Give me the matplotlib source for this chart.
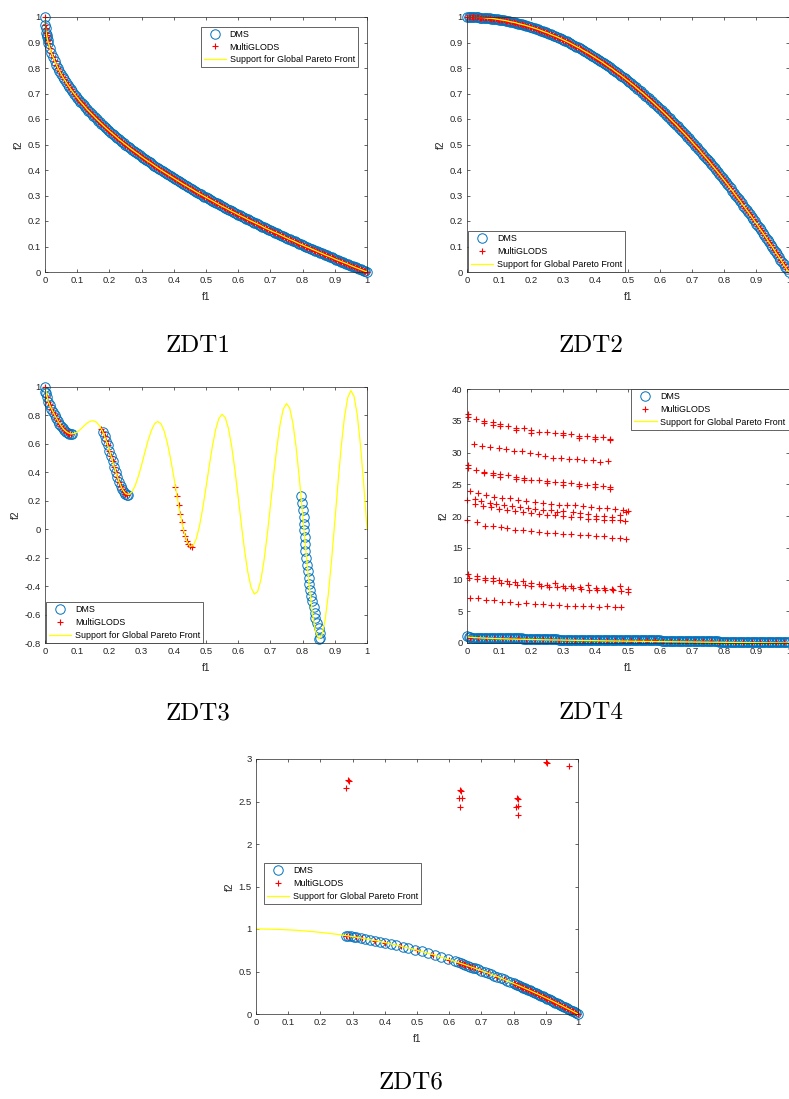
"""ZDT1-ZDT6 benchmark fronts: DMS vs MultiGLODS against the global Pareto front."""

# %%
import matplotlib

matplotlib.use("Agg")
import matplotlib.pyplot as plt
from matplotlib.lines import Line2D
from matplotlib.ticker import FuncFormatter

plt.rcParams["font.family"] = ["Liberation Sans", "DejaVu Sans"]

DMS_BLUE = "#0072BD"
MG_RED = "#FF0000"
FRONT_YELLOW = "#FFFF00"
AX_GRAY = "#262626"

# %% data
f1_grid = [
    0.00, 0.01, 0.02, 0.03, 0.04, 0.05, 0.06, 0.07, 0.08, 0.09,
    0.10, 0.11, 0.12, 0.13, 0.14, 0.15, 0.16, 0.17, 0.18, 0.19,
    0.20, 0.21, 0.22, 0.23, 0.24, 0.25, 0.26, 0.27, 0.28, 0.29,
    0.30, 0.31, 0.32, 0.33, 0.34, 0.35, 0.36, 0.37, 0.38, 0.39,
    0.40, 0.41, 0.42, 0.43, 0.44, 0.45, 0.46, 0.47, 0.48, 0.49,
    0.50, 0.51, 0.52, 0.53, 0.54, 0.55, 0.56, 0.57, 0.58, 0.59,
    0.60, 0.61, 0.62, 0.63, 0.64, 0.65, 0.66, 0.67, 0.68, 0.69,
    0.70, 0.71, 0.72, 0.73, 0.74, 0.75, 0.76, 0.77, 0.78, 0.79,
    0.80, 0.81, 0.82, 0.83, 0.84, 0.85, 0.86, 0.87, 0.88, 0.89,
    0.90, 0.91, 0.92, 0.93, 0.94, 0.95, 0.96, 0.97, 0.98, 0.99,
    1.00,
]
# points found between the grid points (dense runs)
f1_half = [
    0.005, 0.015, 0.025, 0.035, 0.045, 0.055, 0.065, 0.075, 0.085, 0.095,
    0.105, 0.115, 0.125, 0.135, 0.145, 0.155, 0.165, 0.175, 0.185, 0.195,
    0.205, 0.215, 0.225, 0.235, 0.245, 0.255, 0.265, 0.275, 0.285, 0.295,
    0.305, 0.315, 0.325, 0.335, 0.345, 0.355, 0.365, 0.375, 0.385, 0.395,
    0.405, 0.415, 0.425, 0.435, 0.445, 0.455, 0.465, 0.475, 0.485, 0.495,
    0.505, 0.515, 0.525, 0.535, 0.545, 0.555, 0.565, 0.575, 0.585, 0.595,
    0.605, 0.615, 0.625, 0.635, 0.645, 0.655, 0.665, 0.675, 0.685, 0.695,
    0.705, 0.715, 0.725, 0.735, 0.745, 0.755, 0.765, 0.775, 0.785, 0.795,
    0.805, 0.815, 0.825, 0.835, 0.845, 0.855, 0.865, 0.875, 0.885, 0.895,
    0.905, 0.915, 0.925, 0.935, 0.945, 0.955, 0.965, 0.975, 0.985, 0.995,
]

# convex front (ZDT1, ZDT4)
convex_f2 = [
    1.000, 0.900, 0.859, 0.827, 0.800, 0.776, 0.755, 0.735, 0.717, 0.700,
    0.684, 0.668, 0.654, 0.639, 0.626, 0.613, 0.600, 0.588, 0.576, 0.564,
    0.553, 0.542, 0.531, 0.520, 0.510, 0.500, 0.490, 0.480, 0.471, 0.462,
    0.452, 0.443, 0.434, 0.426, 0.417, 0.408, 0.400, 0.392, 0.384, 0.376,
    0.368, 0.360, 0.352, 0.344, 0.337, 0.329, 0.322, 0.314, 0.307, 0.300,
    0.293, 0.286, 0.279, 0.272, 0.265, 0.258, 0.252, 0.245, 0.238, 0.232,
    0.225, 0.219, 0.213, 0.206, 0.200, 0.194, 0.188, 0.182, 0.175, 0.169,
    0.163, 0.157, 0.152, 0.146, 0.140, 0.134, 0.128, 0.123, 0.117, 0.111,
    0.106, 0.100, 0.095, 0.089, 0.084, 0.078, 0.073, 0.067, 0.062, 0.057,
    0.051, 0.046, 0.041, 0.036, 0.031, 0.025, 0.020, 0.015, 0.010, 0.005,
    0.000,
]
convex_half_f2 = [
    0.929, 0.878, 0.842, 0.813, 0.788, 0.766, 0.745, 0.726, 0.709, 0.692,
    0.676, 0.661, 0.646, 0.633, 0.619, 0.606, 0.594, 0.582, 0.570, 0.558,
    0.547, 0.536, 0.526, 0.515, 0.505, 0.495, 0.485, 0.476, 0.466, 0.457,
    0.448, 0.439, 0.430, 0.421, 0.413, 0.404, 0.396, 0.388, 0.380, 0.372,
    0.364, 0.356, 0.348, 0.341, 0.333, 0.326, 0.318, 0.311, 0.304, 0.296,
    0.289, 0.282, 0.275, 0.269, 0.262, 0.255, 0.248, 0.242, 0.235, 0.229,
    0.222, 0.216, 0.209, 0.203, 0.197, 0.191, 0.185, 0.178, 0.172, 0.166,
    0.160, 0.154, 0.149, 0.143, 0.137, 0.131, 0.125, 0.120, 0.114, 0.108,
    0.103, 0.097, 0.092, 0.086, 0.081, 0.075, 0.070, 0.065, 0.059, 0.054,
    0.049, 0.043, 0.038, 0.033, 0.028, 0.023, 0.018, 0.013, 0.008, 0.003,
]
convex_head_f1 = [0.0, 0.001, 0.002, 0.004, 0.006, 0.008]
convex_head_f2 = [1.0, 0.968, 0.955, 0.937, 0.923, 0.911]

# concave front (ZDT2, ZDT6)
concave_f2 = [
    1.000, 1.000, 1.000, 0.999, 0.998, 0.998, 0.996, 0.995, 0.994, 0.992,
    0.990, 0.988, 0.986, 0.983, 0.980, 0.978, 0.974, 0.971, 0.968, 0.964,
    0.960, 0.956, 0.952, 0.947, 0.942, 0.938, 0.932, 0.927, 0.922, 0.916,
    0.910, 0.904, 0.898, 0.891, 0.884, 0.878, 0.870, 0.863, 0.856, 0.848,
    0.840, 0.832, 0.824, 0.815, 0.806, 0.798, 0.788, 0.779, 0.770, 0.760,
    0.750, 0.740, 0.730, 0.719, 0.708, 0.698, 0.686, 0.675, 0.664, 0.652,
    0.640, 0.628, 0.616, 0.603, 0.590, 0.578, 0.564, 0.551, 0.538, 0.524,
    0.510, 0.496, 0.482, 0.467, 0.452, 0.438, 0.422, 0.407, 0.392, 0.376,
    0.360, 0.344, 0.328, 0.311, 0.294, 0.278, 0.260, 0.243, 0.226, 0.208,
    0.190, 0.172, 0.154, 0.135, 0.116, 0.098, 0.078, 0.059, 0.040, 0.020,
    0.000,
]
concave_half_f2 = [
    1.000, 1.000, 0.999, 0.999, 0.998, 0.997, 0.996, 0.994, 0.993, 0.991,
    0.989, 0.987, 0.984, 0.982, 0.979, 0.976, 0.973, 0.969, 0.966, 0.962,
    0.958, 0.954, 0.949, 0.945, 0.940, 0.935, 0.930, 0.924, 0.919, 0.913,
    0.907, 0.901, 0.894, 0.888, 0.881, 0.874, 0.867, 0.859, 0.852, 0.844,
    0.836, 0.828, 0.819, 0.811, 0.802, 0.793, 0.784, 0.774, 0.765, 0.755,
    0.745, 0.735, 0.724, 0.714, 0.703, 0.692, 0.681, 0.669, 0.658, 0.646,
    0.634, 0.622, 0.609, 0.597, 0.584, 0.571, 0.558, 0.544, 0.531, 0.517,
    0.503, 0.489, 0.474, 0.460, 0.445, 0.430, 0.415, 0.399, 0.384, 0.368,
    0.352, 0.336, 0.319, 0.303, 0.286, 0.269, 0.252, 0.234, 0.217, 0.199,
    0.181, 0.163, 0.144, 0.126, 0.107, 0.088, 0.069, 0.049, 0.030, 0.010,
]

# disconnected front support (ZDT3)
zdt3_support_f2 = [
    1.000, 0.897, 0.847, 0.803, 0.762, 0.726, 0.698, 0.679, 0.670, 0.672,
    0.684, 0.702, 0.724, 0.745, 0.759, 0.763, 0.752, 0.725, 0.682, 0.623,
    0.553, 0.477, 0.402, 0.334, 0.282, 0.250, 0.243, 0.262, 0.306, 0.372,
    0.452, 0.539, 0.623, 0.692, 0.740, 0.758, 0.742, 0.691, 0.607, 0.496,
    0.368, 0.233, 0.105, -0.004, -0.082, -0.121, -0.116, -0.066, 0.025, 0.149,
    0.293, 0.443, 0.585, 0.701, 0.779, 0.808, 0.784, 0.706, 0.579, 0.414,
    0.225, 0.031, -0.152, -0.303, -0.409, -0.456, -0.440, -0.361, -0.224, -0.044,
    0.163, 0.377, 0.575, 0.736, 0.844, 0.884, 0.851, 0.745, 0.575, 0.355,
    0.106, -0.150, -0.388, -0.582, -0.715, -0.772, -0.745, -0.637, -0.456, -0.218,
    0.051, 0.327, 0.582, 0.788, 0.924, 0.975, 0.933, 0.800, 0.586, 0.311,
    0.000,
]
zdt3_dms_f1 = [
    0.0, 0.001, 0.002, 0.005, 0.01, 0.015, 0.02, 0.025, 0.03, 0.035,
    0.04, 0.045, 0.05, 0.055, 0.06, 0.065, 0.07, 0.075, 0.08, 0.085,
    0.18, 0.185, 0.19, 0.195, 0.2, 0.205, 0.21, 0.215, 0.22, 0.225,
    0.23, 0.235, 0.24, 0.245, 0.25, 0.255, 0.258,
    0.796, 0.799, 0.801, 0.803, 0.805, 0.805, 0.807, 0.807, 0.809, 0.811,
    0.813, 0.816, 0.819, 0.821, 0.823, 0.826, 0.830, 0.834, 0.837, 0.840,
    0.845, 0.850, 0.853, 0.855, 0.850,
]
zdt3_dms_f2 = [
    1.0, 0.968, 0.955, 0.928, 0.897, 0.871, 0.847, 0.824, 0.803, 0.782,
    0.762, 0.743, 0.726, 0.711, 0.698, 0.687, 0.679, 0.673, 0.670, 0.670,
    0.682, 0.654, 0.623, 0.589, 0.553, 0.515, 0.477, 0.439, 0.402, 0.367,
    0.334, 0.306, 0.282, 0.263, 0.250, 0.243, 0.242,
    0.236, 0.184, 0.137, 0.086, 0.039, -0.008, -0.055, -0.102, -0.155, -0.202,
    -0.249, -0.296, -0.343, -0.383, -0.425, -0.467, -0.507, -0.547, -0.589, -0.624,
    -0.659, -0.694, -0.729, -0.765, -0.775,
]
zdt3_mg_f1 = [
    0.0, 0.005, 0.01, 0.015, 0.02, 0.025, 0.03, 0.035, 0.04, 0.045,
    0.05, 0.055, 0.06, 0.065, 0.07, 0.075, 0.08,
    0.175, 0.18, 0.185, 0.19, 0.195, 0.2, 0.205, 0.21, 0.215,
    0.22, 0.225, 0.23, 0.235, 0.24, 0.245, 0.25, 0.255,
    0.405, 0.41, 0.415, 0.42, 0.425, 0.43, 0.435, 0.44, 0.445, 0.45, 0.455,
]
zdt3_mg_f2 = [
    1.0, 0.928, 0.897, 0.871, 0.847, 0.824, 0.803, 0.782, 0.762, 0.743,
    0.726, 0.711, 0.698, 0.687, 0.679, 0.673, 0.670,
    0.705, 0.682, 0.654, 0.623, 0.589, 0.553, 0.515, 0.477, 0.439,
    0.402, 0.367, 0.334, 0.306, 0.282, 0.263, 0.250, 0.243,
    0.300, 0.233, 0.167, 0.105, 0.048, -0.004, -0.047, -0.082, -0.107, -0.121, -0.124,
]

# ZDT4: DMS stalls on stepped levels just above the front
zdt4_dms_f2 = (
    [1.05, 0.88] + [0.78] * 7 + [0.74] * 9 + [0.62] * 11 + [0.52] * 15
    + [0.45] * 17 + [0.30] * 18 + [0.20] * 22
)
zdt4_dms_half_f2 = (
    [0.95] + [0.78] * 8 + [0.74] * 8 + [0.62] * 11 + [0.52] * 15
    + [0.45] * 17 + [0.30] * 18 + [0.20] * 22
)
zdt4_mg_low_f1 = [
    0.01, 0.035, 0.06, 0.085, 0.11, 0.135, 0.16, 0.185, 0.21, 0.235,
    0.26, 0.285, 0.31, 0.335, 0.36, 0.385, 0.41, 0.435, 0.46, 0.485,
    0.51, 0.535, 0.56, 0.585, 0.61, 0.635, 0.66, 0.685, 0.71, 0.735,
    0.76, 0.785, 0.81, 0.835, 0.86, 0.885, 0.91, 0.935, 0.96, 0.985,
]
zdt4_mg_low_f2 = (
    [0.80] * 7 + [0.62] * 4 + [0.52] * 6 + [0.45] * 7 + [0.30] * 7 + [0.20] * 9
)
# local fronts MultiGLODS got stuck on, one row per local front
zdt4_mg_rows_f1 = [
    [0.003, 0.003, 0.029, 0.054, 0.054, 0.080, 0.080, 0.104, 0.104, 0.126,
     0.152, 0.152, 0.176, 0.200, 0.200, 0.225, 0.249, 0.275, 0.298, 0.298,
     0.323, 0.349, 0.349, 0.373, 0.397, 0.397, 0.422, 0.446, 0.446],
    [0.022, 0.047, 0.073, 0.098, 0.121, 0.147, 0.171, 0.197, 0.221, 0.244,
     0.269, 0.293, 0.318, 0.342, 0.365, 0.391, 0.414, 0.440],
    [0.003, 0.003, 0.029, 0.054, 0.054, 0.080, 0.080, 0.104, 0.104, 0.126,
     0.152, 0.152, 0.176, 0.176, 0.200, 0.225, 0.249, 0.249, 0.275, 0.298,
     0.298, 0.323, 0.349, 0.349, 0.373, 0.397, 0.397, 0.422, 0.446, 0.446],
    [0.01, 0.035, 0.06, 0.085, 0.11, 0.135, 0.16, 0.185, 0.21, 0.235,
     0.26, 0.285, 0.31, 0.335, 0.36, 0.385, 0.41, 0.435, 0.46, 0.485, 0.5],
    [0.0, 0.025, 0.045, 0.07, 0.09, 0.115, 0.14, 0.165, 0.19, 0.21,
     0.235, 0.26, 0.28, 0.3, 0.33, 0.35, 0.375, 0.4, 0.425, 0.45, 0.475, 0.495],
    [0.025, 0.05, 0.075, 0.1, 0.125, 0.15, 0.175, 0.2, 0.225, 0.25,
     0.275, 0.3, 0.325, 0.35, 0.375, 0.4, 0.425, 0.45, 0.475, 0.49],
    [0.0, 0.03, 0.055, 0.08, 0.105, 0.125, 0.15, 0.175, 0.2, 0.225,
     0.25, 0.275, 0.3, 0.325, 0.35, 0.375, 0.4, 0.425, 0.45, 0.475, 0.495],
    [0.003, 0.03, 0.055, 0.08, 0.1, 0.125, 0.15, 0.175, 0.2, 0.225,
     0.25, 0.275, 0.3, 0.325, 0.35, 0.375, 0.4, 0.425, 0.45, 0.475, 0.5],
    [0.005, 0.03, 0.055, 0.08, 0.105, 0.13, 0.155, 0.18, 0.2, 0.23,
     0.255, 0.28, 0.305, 0.33, 0.355, 0.38, 0.405, 0.43, 0.455, 0.48, 0.5],
    [0.01, 0.035, 0.06, 0.085, 0.11, 0.135, 0.16, 0.185, 0.21, 0.235,
     0.26, 0.285, 0.31, 0.335, 0.36, 0.385, 0.41, 0.435, 0.46, 0.48],
]
zdt4_mg_rows_f2 = [
    [36.0, 35.6, 35.3, 35.0, 34.6, 34.8, 34.4, 34.5, 34.1, 34.2,
     33.9, 33.6, 33.8, 33.5, 33.1, 33.3, 33.2, 33.1, 33.0, 32.7,
     32.9, 32.6, 32.3, 32.6, 32.5, 32.2, 32.4, 32.2, 31.9],
    [31.3, 31.1, 30.8, 30.7, 30.5, 30.3, 30.2, 30.0, 29.7, 29.5,
     29.2, 29.2, 29.0, 29.0, 28.8, 28.8, 28.5, 28.6],
    [28.0, 27.6, 27.3, 27.0, 26.7, 26.7, 26.4, 26.6, 26.2, 26.4,
     26.2, 25.9, 26.0, 25.6, 25.7, 25.6, 25.5, 25.2, 25.4, 25.3,
     24.9, 25.2, 25.1, 24.8, 24.9, 25.0, 24.6, 24.8, 24.6, 24.3],
    [24.0, 23.7, 23.3, 23.0, 22.9, 22.8, 22.5, 22.4, 22.2, 22.1,
     21.9, 21.8, 21.7, 21.7, 21.5, 21.4, 21.3, 21.3, 21.1, 21.0, 20.8],
    [22.5, 22.6, 22.4, 22.1, 21.9, 21.7, 21.6, 21.4, 21.3, 21.1,
     21.0, 20.9, 20.7, 20.8, 20.6, 20.4, 20.3, 20.0, 20.0, 19.9, 20.1, 20.6],
    [21.9, 21.5, 21.4, 21.1, 21.0, 20.8, 20.6, 20.4, 20.3, 20.2,
     20.1, 20.0, 19.9, 19.8, 19.6, 19.6, 19.4, 19.3, 19.3, 19.2],
    [19.3, 19.0, 18.5, 18.5, 18.2, 18.1, 17.8, 17.8, 17.6, 17.5,
     17.4, 17.3, 17.1, 17.1, 17.0, 17.0, 16.8, 16.8, 16.6, 16.6, 16.4],
    [10.8, 10.5, 10.2, 10.3, 9.9, 9.8, 9.6, 9.8, 9.4, 9.3,
     9.2, 9.5, 8.9, 8.9, 8.8, 9.1, 8.6, 8.7, 8.5, 8.9, 8.5],
    [10.3, 10.1, 9.9, 9.8, 9.5, 9.3, 9.2, 9.1, 9.0, 8.9,
     8.8, 8.8, 8.6, 8.6, 8.5, 8.4, 8.4, 8.3, 8.3, 8.2, 8.1],
    [7.1, 7.1, 6.7, 6.7, 6.5, 6.5, 6.2, 6.3, 6.1, 6.2,
     6.0, 6.0, 5.9, 5.9, 5.8, 5.8, 5.7, 5.8, 5.6, 5.7],
]

zdt6_dms_f1 = [
    0.28, 0.287, 0.295, 0.303, 0.312, 0.325, 0.34, 0.354, 0.37, 0.385,
    0.40, 0.418, 0.436, 0.455, 0.473, 0.493, 0.514, 0.535, 0.555, 0.576,
    0.597, 0.617, 0.628, 0.636, 0.643, 0.65, 0.657, 0.665, 0.673, 0.68,
    0.69, 0.70, 0.71, 0.72, 0.73, 0.74, 0.75, 0.76, 0.77, 0.78,
    0.79, 0.80, 0.805, 0.81, 0.815, 0.82, 0.825, 0.83, 0.835, 0.84,
    0.845, 0.85, 0.855, 0.86, 0.865, 0.87, 0.875, 0.88, 0.885, 0.89,
    0.895, 0.90, 0.905, 0.91, 0.915, 0.92, 0.925, 0.93, 0.935, 0.94,
    0.945, 0.95, 0.955, 0.96, 0.965, 0.97, 0.975, 0.98, 0.985, 0.99,
    0.995, 1.0,
]
zdt6_dms_f2 = [
    0.922, 0.918, 0.913, 0.908, 0.903, 0.894, 0.884, 0.875, 0.863, 0.852,
    0.840, 0.825, 0.810, 0.793, 0.776, 0.757, 0.736, 0.714, 0.692, 0.668,
    0.644, 0.619, 0.606, 0.596, 0.587, 0.578, 0.568, 0.558, 0.547, 0.538,
    0.524, 0.510, 0.496, 0.482, 0.467, 0.452, 0.438, 0.422, 0.407, 0.392,
    0.376, 0.360, 0.352, 0.344, 0.336, 0.328, 0.319, 0.311, 0.303, 0.294,
    0.286, 0.278, 0.269, 0.260, 0.252, 0.243, 0.234, 0.226, 0.217, 0.208,
    0.199, 0.190, 0.181, 0.172, 0.163, 0.154, 0.144, 0.135, 0.126, 0.116,
    0.107, 0.098, 0.088, 0.078, 0.069, 0.059, 0.049, 0.040, 0.030, 0.020,
    0.010, 0.000,
]
# MultiGLODS points that landed on the concave front (indices into f1_grid / f1_half)
zdt6_mg_front_idx = [
    28, 29, 31, 33, 37, 40, 45, 50, 55, 60, 63, 64, 65, 66, 67, 68, 70, 72,
    75, 77, 80, 81, 82, 83, 84, 85, 86, 87, 88, 89, 90, 91, 92, 93, 94, 95,
    96, 97, 98, 99, 100,
]
zdt6_mg_half_idx = [63, 64, 66, 80, 81, 82, 83, 84, 85, 86, 87, 88, 89, 90,
                    91, 92, 93, 94, 95, 96, 97, 98, 99]
zdt6_mg_off_f1 = [0.281, 0.286, 0.288, 0.633, 0.636, 0.631, 0.639, 0.635,
                  0.810, 0.814, 0.809, 0.813, 0.813, 0.901, 0.903, 0.971]
zdt6_mg_off_f2 = [2.66, 2.75, 2.74, 2.63, 2.62, 2.54, 2.54, 2.43,
                  2.54, 2.53, 2.44, 2.45, 2.34, 2.97, 2.95, 2.92]

tenths = [0, 0.1, 0.2, 0.3, 0.4, 0.5, 0.6, 0.7, 0.8, 0.9, 1]

DMS_STYLE = dict(marker="o", ms=6.8, mfc="none", mec=DMS_BLUE, mew=0.7)
MG_STYLE = dict(marker="+", ms=4.8, color=MG_RED, mew=0.8)
FRONT_STYLE = dict(color=FRONT_YELLOW, lw=0.9)


# %%
def draw(ax, dms, mg, front):
    """Plot in MATLAB order: DMS, MultiGLODS, then the support line on top."""
    for f1, f2 in dms:
        ax.plot(f1, f2, ls="none", clip_on=False, **DMS_STYLE)
    for f1, f2 in mg:
        ax.plot(f1, f2, ls="none", clip_on=False, **MG_STYLE)
    ax.plot(front[0], front[1], "-", **FRONT_STYLE)


def style(ax, xlim, ylim, yticks):
    ax.set_xlim(*xlim)
    ax.set_ylim(*ylim)
    ax.set_xticks(tenths)
    ax.set_yticks(yticks)
    fmt = FuncFormatter(lambda v, _: f"{round(v, 6):g}")
    ax.xaxis.set_major_formatter(fmt)
    ax.yaxis.set_major_formatter(fmt)
    ax.tick_params(direction="in", length=2.4, width=0.5, top=True, right=True,
                   labelsize=6.8, colors=AX_GRAY, pad=3.2)
    for sp in ax.spines.values():
        sp.set_linewidth(0.5)
        sp.set_color(AX_GRAY)
    ax.set_xlabel("f1", fontsize=7.4, color=AX_GRAY, labelpad=4.5)
    ax.set_ylabel("f2", fontsize=7.4, color=AX_GRAY, labelpad=2.5)


def add_legend(ax, **kw):
    handles = [
        Line2D([], [], ls="none", **DMS_STYLE),
        Line2D([], [], ls="none", **MG_STYLE),
        Line2D([], [], **FRONT_STYLE),
    ]
    leg = ax.legend(handles, ["DMS", "MultiGLODS", "Support for Global Pareto Front"],
                    fontsize=6.4, fancybox=False, framealpha=1, edgecolor=AX_GRAY,
                    borderaxespad=0, handlelength=2.5, handletextpad=0.4,
                    labelspacing=0.42, borderpad=0.35, **kw)
    leg.get_frame().set_linewidth(0.5)


fig = plt.figure(figsize=(7.89, 10.99), dpi=100)
H = 1099.0
W = 789.0


def axes_px(left, top, right, bottom):
    return fig.add_axes([left / W, 1 - bottom / H, (right - left) / W, (bottom - top) / H])


convex_f1 = convex_head_f1 + f1_grid[1:]
convex_all_f2 = convex_head_f2 + convex_f2[1:]
convex_pts = [(convex_f1, convex_all_f2), (f1_half, convex_half_f2)]
concave_pts = [(f1_grid, concave_f2), (f1_half, concave_half_f2)]

# ZDT1
ax1 = axes_px(45, 17, 367, 272)
draw(ax1, convex_pts, convex_pts, (convex_f1, convex_all_f2))
style(ax1, (0, 1), (0, 1), tenths)
add_legend(ax1, loc="upper right", bbox_to_anchor=(0.972, 0.962))

# ZDT2
ax2 = axes_px(467, 17, 788.5, 272)
draw(ax2, concave_pts, concave_pts, (f1_grid, concave_f2))
style(ax2, (0, 1), (0, 1), tenths)
add_legend(ax2, loc="lower left", bbox_to_anchor=(0.003, 0.0))

# ZDT3
ax3 = axes_px(45, 387, 367, 643)
draw(ax3, [(zdt3_dms_f1, zdt3_dms_f2)], [(zdt3_mg_f1, zdt3_mg_f2)], (f1_grid, zdt3_support_f2))
style(ax3, (0, 1), (-0.8, 1), [-0.8, -0.6, -0.4, -0.2, 0, 0.2, 0.4, 0.6, 0.8, 1])
add_legend(ax3, loc="lower left", bbox_to_anchor=(0.003, 0.0))

# ZDT4
ax4 = axes_px(467, 389, 788.5, 643)
mg4 = [(zdt4_mg_low_f1, zdt4_mg_low_f2)] + list(zip(zdt4_mg_rows_f1, zdt4_mg_rows_f2))
draw(ax4, [(f1_grid, zdt4_dms_f2), (f1_half, zdt4_dms_half_f2)], mg4, (convex_f1, convex_all_f2))
style(ax4, (0, 1), (0, 40), [0, 5, 10, 15, 20, 25, 30, 35, 40])
add_legend(ax4, loc="upper right", bbox_to_anchor=(1.0, 1.0))

# ZDT6
ax6 = axes_px(256, 759, 578, 1014)
mg6 = [([f1_grid[i] for i in zdt6_mg_front_idx], [concave_f2[i] for i in zdt6_mg_front_idx]),
       ([f1_half[i] for i in zdt6_mg_half_idx], [concave_half_f2[i] for i in zdt6_mg_half_idx]),
       (zdt6_mg_off_f1, zdt6_mg_off_f2)]
draw(ax6, [(zdt6_dms_f1, zdt6_dms_f2)], mg6, (f1_grid, concave_f2))
style(ax6, (0, 1), (0, 3), [0, 0.5, 1, 1.5, 2, 2.5, 3])
add_legend(ax6, loc="upper left", bbox_to_anchor=(0.025, 0.592))

# captions under each panel
for label, x, y in [("ZDT1", 198, 346), ("ZDT2", 591, 346), ("ZDT3", 198, 713),
                    ("ZDT4", 591, 713), ("ZDT6", 411, 1082)]:
    fig.text(x / W, 1 - y / H, label, fontfamily="cmr10", fontsize=18,
             ha="center", va="center", color="black")

fig.savefig("out.png", dpi=100)
